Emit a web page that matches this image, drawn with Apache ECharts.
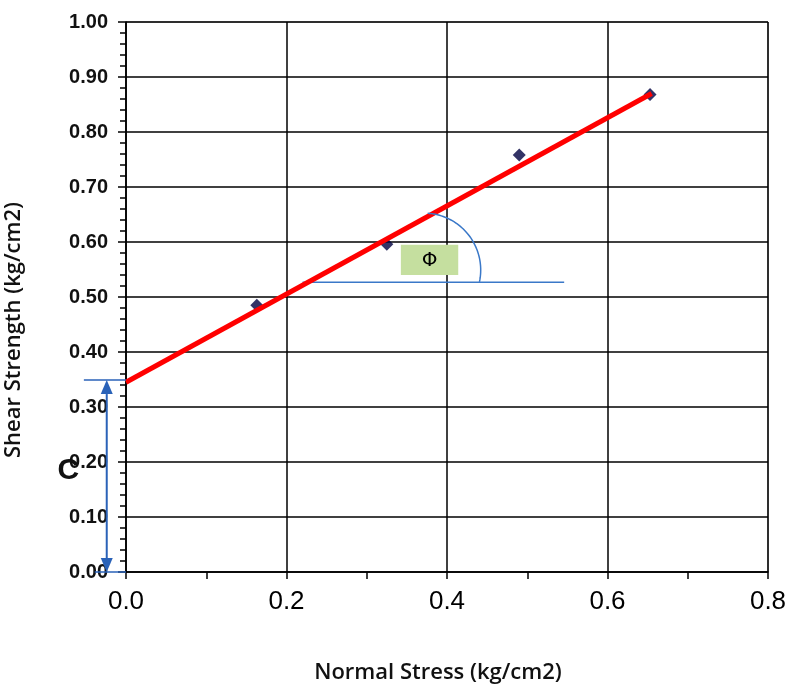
<!DOCTYPE html>
<html>
<head>
<meta charset="utf-8">
<script src="https://cdn.jsdelivr.net/npm/echarts@6/dist/echarts.min.js"></script>
<style>
  html, body { margin: 0; padding: 0; background: #fff; }
  #chart { width: 793px; height: 684px; }
</style>
</head>
<body>
<div id="chart"></div>
<script>
// measured points
const normalStress = [0.163, 0.325, 0.49, 0.653]
const shearStrength = [0.485, 0.596, 0.758, 0.868]
// fitted failure envelope (ends)
const fitX = [0.0, 0.655]
const fitY = [0.345, 0.870]
// angle reference line
const refX = [0.22, 0.546]
const refY = [0.527, 0.527]
// cohesion arrow
const cohesionX = -0.024
const cohesionRange = [0.0, 0.349]

const dom = echarts.init(document.getElementById('chart'))

const option = {
  animation: false,
  grid: {
    left: 126,
    right: 25,
    top: 22,
    bottom: 112,
    outerBoundsMode: 'none',
    show: true,
    borderColor: '#777',
    borderWidth: 1
  },
  xAxis: {
    type: 'value',
    min: 0,
    max: 0.8,
    interval: 0.2,
    name: 'Normal Stress (kg/cm2)',
    nameLocation: 'middle',
    nameGap: 90,
    nameTextStyle: { fontFamily: 'Open Sans', fontWeight: 600, fontSize: 22, color: '#111', padding: [0, 18, 0, 0] },
    axisLine: { lineStyle: { color: '#000', width: 1.5 } },
    axisTick: { length: 7, lineStyle: { color: '#000', width: 1.5 } },
    minorTick: { show: true, splitNumber: 2, length: 7, lineStyle: { color: '#000', width: 1.5 } },
    axisLabel: {
      margin: 17,
      fontFamily: 'Liberation Sans',
      fontSize: 26,
      color: '#000',
      formatter: v => v.toFixed(1)
    },
    splitLine: { lineStyle: { color: '#000', width: 1.5 } }
  },
  yAxis: {
    type: 'value',
    min: 0,
    max: 1,
    interval: 0.1,
    name: 'Shear Strength (kg/cm2)',
    nameLocation: 'middle',
    nameGap: 101,
    nameTextStyle: { fontFamily: 'Open Sans', fontWeight: 600, fontSize: 22, color: '#111', padding: [0, 66, 0, 0] },
    axisLine: { lineStyle: { color: '#000', width: 1.5 } },
    axisTick: { length: 8, lineStyle: { color: '#000', width: 1.5 } },
    minorTick: { show: true, splitNumber: 5, length: 6, lineStyle: { color: '#000', width: 1.5 } },
    axisLabel: {
      margin: 18,
      fontFamily: 'Liberation Sans',
      fontWeight: 'bold',
      fontSize: 20,
      color: '#111',
      formatter: v => v.toFixed(2)
    },
    splitLine: { lineStyle: { color: '#000', width: 1.5 } }
  },
  series: [
    {
      type: 'line',
      data: refX.map((x, i) => [x, refY[i]]),
      symbol: 'none',
      lineStyle: { color: '#3a78c8', width: 1.5 },
      z: 2
    },
    {
      type: 'scatter',
      data: normalStress.map((x, i) => [x, shearStrength[i]]),
      symbol: 'diamond',
      symbolSize: 13,
      itemStyle: { color: '#000040' },
      z: 3
    },
    {
      type: 'line',
      data: fitX.map((x, i) => [x, fitY[i]]),
      symbol: 'none',
      lineStyle: { color: '#ff0000', width: 5 },
      z: 4
    },
    {
      // Phi label box and arc
      type: 'custom',
      clip: false,
      z: 5,
      data: [[0]],
      renderItem: (params, api) => {
        const c = api.coord([0.371, 0.549])
        const r = api.size([0.071, 0])[0]
        const pts = []
        for (let a = -86; a <= 12; a += 2) {
          const t = a * Math.PI / 180
          pts.push([c[0] + r * Math.cos(t), c[1] + r * Math.sin(t)])
        }
        const b0 = api.coord([0.3425, 0.595])
        const b1 = api.coord([0.414, 0.540])
        return {
          type: 'group',
          children: [
            {
              type: 'polyline',
              shape: { points: pts },
              style: { stroke: '#3a78c8', lineWidth: 1.5, fill: null }
            },
            {
              type: 'rect',
              shape: { x: b0[0], y: b0[1], width: b1[0] - b0[0], height: b1[1] - b0[1] },
              style: { fill: '#c5df9f' }
            },
            {
              type: 'text',
              style: {
                x: (b0[0] + b1[0]) / 2, y: (b0[1] + b1[1]) / 2 + 1,
                text: 'Φ', fontSize: 20, fontFamily: 'DejaVu Sans', fill: '#000',
                align: 'center', verticalAlign: 'middle'
              }
            }
          ]
        }
      }
    },
    {
      // cohesion arrow
      type: 'custom',
      clip: false,
      z: 5,
      data: [[0]],
      renderItem: (params, api) => {
        const top = api.coord([cohesionX, cohesionRange[1]])
        const bot = api.coord([cohesionX, cohesionRange[0]])
        const topL = api.coord([-0.0525, cohesionRange[1]])
        const botL = api.coord([-0.039, cohesionRange[0]])
        const axisX = api.coord([0, 0])[0]
        const col = '#2a62b8'
        const h = 14, w = 6
        return {
          type: 'group',
          children: [
            { type: 'line', shape: { x1: topL[0], y1: top[1], x2: axisX, y2: top[1] }, style: { stroke: col, lineWidth: 1.5 } },
            { type: 'line', shape: { x1: botL[0], y1: bot[1], x2: axisX, y2: bot[1] }, style: { stroke: col, lineWidth: 1.5 } },
            { type: 'line', shape: { x1: top[0], y1: top[1] + h, x2: bot[0], y2: bot[1] - h }, style: { stroke: col, lineWidth: 2 } },
            { type: 'polygon', shape: { points: [[top[0], top[1]], [top[0] - w, top[1] + h], [top[0] + w, top[1] + h]] }, style: { fill: col } },
            { type: 'polygon', shape: { points: [[bot[0], bot[1]], [bot[0] - w, bot[1] - h], [bot[0] + w, bot[1] - h]] }, style: { fill: col } },
            {
              type: 'text',
              style: {
                x: api.coord([-0.072, 0.185])[0], y: api.coord([-0.072, 0.185])[1],
                text: 'C', fontSize: 30, fontFamily: 'Liberation Sans', fontWeight: 'bold', fill: '#111',
                align: 'center', verticalAlign: 'middle'
              }
            }
          ]
        }
      }
    }
  ]
}

dom.setOption(option)
window.addEventListener('resize', () => dom.resize())
</script>
</body>
</html>
